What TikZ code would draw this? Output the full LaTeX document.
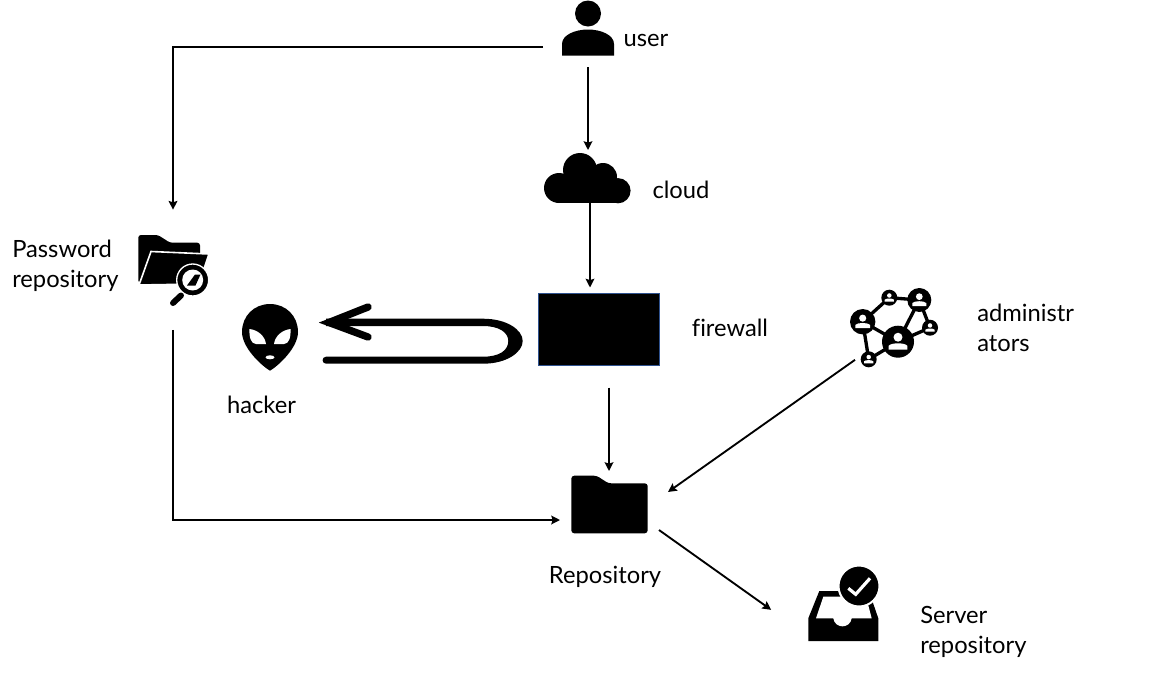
\documentclass[tikz,border=0pt]{standalone}
\usepackage{fontspec}
\setmainfont[Ligatures=NoCommon]{Lato}
\definecolor{wallblue}{RGB}{47, 82, 143}
\usetikzlibrary{arrows.meta, calc}
\tikzset{
  iconbox/.style={inner sep=0pt, outer sep=0pt},
  label/.style={inner sep=0pt, font=\fontsize{17.8}{22.5}\selectfont},
  link/.style={-{Stealth[length=6.5pt, width=6.5pt, inset=1pt]}, line width=1.4pt},
}

\begin{document}
\begin{tikzpicture}[x=0.75pt, y=-0.75pt]
  \useasboundingbox (0, 0) rectangle (1167, 679);

  % Icon places
  \node[iconbox, minimum width=39pt, minimum height=42pt] (user) at (588, 28) {};
  \node[iconbox, minimum width=65pt, minimum height=37.5pt] (cloud) at (587.5, 178) {};
  \node[iconbox, minimum width=52.5pt, minimum height=53pt] (password) at (173, 270) {};
  \node[iconbox, minimum width=42.75pt, minimum height=50pt] (hacker) at (270, 337.5) {};
  \node[iconbox, draw=wallblue, fill=black, line width=0.75pt, minimum width=90.75pt, minimum height=54pt] (firewall) at (599, 329.5) {};
  \node[iconbox, minimum width=57pt, minimum height=43.5pt] (repo) at (609.5, 504.5) {};
  \node[iconbox, minimum width=66pt, minimum height=59pt] (admin) at (894, 328.5) {};
  \node[iconbox, minimum width=53pt, minimum height=56pt] (server) at (843.5, 603.5) {};

  % User
  \fill (588, 13.5) circle [radius=13];
  \fill (562, 55.5) -- (562, 44) .. controls (562, 35) and (575, 29.5) .. (588, 29.5)
    .. controls (601, 29.5) and (614, 35) .. (614, 44) -- (614, 55.5) -- cycle;

  % Cloud
  \fill (580, 170) circle [radius=17];
  \fill (603, 177) circle [radius=14];
  \fill (559, 188) circle [radius=15];
  \fill (618, 190.7) circle [radius=12.6];
  \fill (559, 180) rectangle (618, 203.3);

  % Password folder
  \fill[rounded corners=2pt] (138.3, 235) -- (158, 235) -- (170, 242.7) -- (200, 242.7) -- (200, 262) -- (138.3, 283) -- cycle;
  \filldraw[draw=white, line width=1.2pt] (151, 251.5) -- (209, 254) -- (199, 284) -- (139, 285) -- cycle;
  \filldraw[draw=white, fill=black, line width=1pt] (192.7, 280) circle [radius=16];
  \fill[white] (192.7, 280) circle [radius=10.5];
  \fill (195, 274.5) -- (200.5, 274.5) -- (195.5, 285.5) -- (187, 285.5) -- cycle;
  \draw[line width=4.5pt, line cap=round] (181, 295.5) -- (173, 303);

  % Hacker
  \fill (270, 304) .. controls (254, 304) and (242, 316) .. (242, 332)
    .. controls (242, 348) and (262, 366) .. (270, 370.7)
    .. controls (278, 366) and (298, 348) .. (298, 332)
    .. controls (298, 316) and (286, 304) .. (270, 304) -- cycle;
  \fill[white] (249.5, 329) .. controls (258, 330) and (265, 336) .. (266, 344)
    -- (256, 344) .. controls (251, 344) and (249, 337) .. (249.5, 329) -- cycle;
  \fill[white] (290.5, 329) .. controls (282, 330) and (275, 336) .. (274, 344)
    -- (284, 344) .. controls (289, 344) and (291, 337) .. (290.5, 329) -- cycle;
  \fill[white] (270, 357.3) ellipse [x radius=4.5, y radius=2];

  % Bounce in front of the firewall
  \fill (326, 318.7) -- (483, 318.7) .. controls (507, 318.7) and (522.7, 330) .. (522.7, 341)
    .. controls (522.7, 352) and (507, 363.7) .. (483, 363.7) -- (326, 363.7)
    .. controls (321.5, 363.7) and (321.5, 356.7) .. (326, 356.7)
    -- (483, 356.7) .. controls (500, 356.7) and (508.3, 350) .. (508.3, 341)
    .. controls (508.3, 333) and (500, 326) .. (483, 326) -- (326, 326) -- cycle;
  \draw[line width=5.5pt, line cap=round] (368, 307) -- (329, 322.5) -- (368, 337);

  % Administrators
  \draw[line width=2.5pt] (862.7, 321.7) -- (889.3, 297.7) -- (919.3, 300) -- (898, 341.7) -- (862.7, 321.7) -- (868.7, 359.3) -- (898, 341.7) -- (930, 327.7) -- (919.3, 300);
  \foreach \cx/\cy/\r in {898/341.7/16, 862.7/321.7/12.7, 919.3/300/12, 889.3/297.7/8, 930/327.7/8, 868.7/359.3/8} {
    \fill (\cx, \cy) circle [radius=\r];
    \fill[white] (\cx, \cy-0.28*\r) circle [radius=0.28*\r];
    \fill[white] (\cx-0.58*\r, \cy+0.5*\r) -- (\cx-0.58*\r, \cy+0.25*\r) .. controls (\cx-0.4*\r, \cy+0.05*\r) and (\cx+0.4*\r, \cy+0.05*\r) .. (\cx+0.58*\r, \cy+0.25*\r) -- (\cx+0.58*\r, \cy+0.5*\r) -- cycle;
  }

  % Repository
  \fill[rounded corners=2.2pt] (571.3, 475.7) -- (596.7, 475.7) -- (608.3, 483.3) -- (647.7, 483.3) -- (647.7, 533.3) -- (571.3, 533.3) -- cycle;

  % Server repository
  \fill (808.3, 641) -- (808.3, 618.3) -- (819.3, 591) -- (840, 591) -- (872, 600) -- (878.3, 618.3) -- (878.3, 641) -- cycle;
  \fill[white] (823.3, 596.7) -- (816, 618.3) -- (833.3, 618.3) .. controls (835, 629) and (850, 629) .. (851.7, 618.3) -- (871.7, 618.3) -- (866, 596.7) -- cycle;
  \filldraw[draw=white, line width=1.5pt] (859, 586) circle [radius=20.5];
  \draw[white, line width=2.4pt] (848.3, 588.3) -- (855.7, 594.3) -- (870, 578.3);

  % Arrows
  \draw[link] ([shift={(-19, 19)}]user.west) -| ([shift={(0, -25)}]password.north);
  \draw[link] ([shift={(0, 11)}]user.south) -- ([shift={(0.5, -3)}]cloud.north);
  \draw[link] ([shift={(2.5, 0)}]cloud.south) -- ([shift={(-9, -6)}]firewall.north);
  \draw[link] ([shift={(10, 22)}]firewall.south) -- ([shift={(-0.5, -4.5)}]repo.north);
  \draw[link] ([shift={(0, 24.5)}]password.south) |- ([shift={(-11.5, 15.5)}]repo.west);
  \draw[link] ([shift={(5, -8)}]admin.south west) -- ([shift={(20.5, 16.5)}]repo.north east);
  \draw[link] ([shift={(11.5, -3.5)}]repo.south east) -- ([shift={(-37, -31)}]server.south west);

  % Labels
  \node[label] (userlabel) at (646, 40) {user};
  \node[label] (cloudlabel) at (681, 190) {cloud};
  \node[label] (firewalllabel) at (730, 328) {firewall};
  \node[label] (hackerlabel) at (261.5, 405) {hacker};
  \node[label] (repolabel) at (605, 577) {Repository};
  \node[label, anchor=west, align=left] (passwordlabel) at (12, 266) {Password\\repository};
  \node[label, anchor=west, align=left] (adminlabel) at (977, 328) {administr\\ators};
  \node[label, anchor=west, align=left] (serverlabel) at (920, 632) {Server\\repository};
\end{tikzpicture}
\end{document}
